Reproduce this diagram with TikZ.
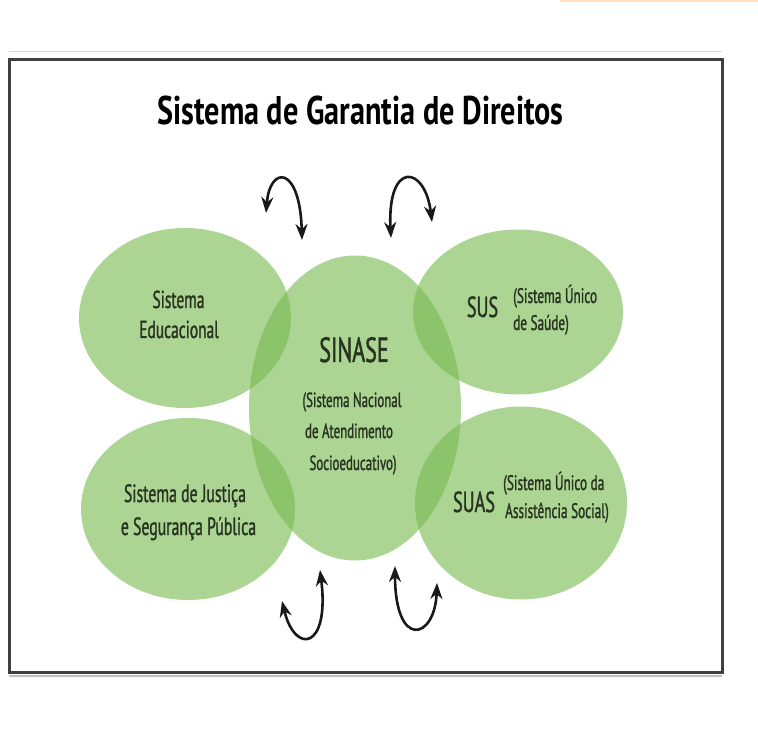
\documentclass[tikz,border=0pt]{standalone}
\usepackage{fontspec}
\setmainfont{PT Sans}[FakeStretch=0.63, FakeBold=1.2]
\newfontfamily\titlefont{PT Sans}[FakeStretch=0.756]
\usetikzlibrary{shapes.geometric,arrows.meta}
\definecolor{gfill}{RGB}{118,186,78}
\definecolor{txt}{RGB}{40,52,32}
\tikzset{
  blob/.style={ellipse, fill=gfill, fill opacity=0.6, draw=none, inner sep=0pt},
  ln/.style={text=txt, inner sep=0pt, anchor=base},
  lw/.style={text=txt, inner sep=0pt, anchor=base west},
  fa/.style={font=\fontsize{25}{28}\selectfont},
  fb/.style={font=\fontsize{20.5}{24}\selectfont},
  fc/.style={font=\fontsize{21}{24}\selectfont},
  fd/.style={font=\fontsize{29}{32}\selectfont},
  loop/.style={line width=2.6pt, black!90, {Stealth[length=16pt,width=12pt]}-{Stealth[length=16pt,width=12pt]}}
}
\begin{document}
\begin{tikzpicture}[x=1pt,y=-1pt]
\useasboundingbox (0,0) rectangle (758,735);
\fill[white] (0,0) rectangle (758,735);
\fill[orange!25] (560,0) rectangle (758,2);
% frame
\draw[black!15, line width=1pt] (9,52) -- (722,52);
\draw[black!75, line width=3pt] (9,60) rectangle (722,672);
\draw[black!25, line width=1.5pt] (9,676) -- (722,676);
% ellipses
\node[blob, minimum width=212, minimum height=180] (edu) at (185,318) {};
\node[blob, minimum width=214, minimum height=182] (jus) at (188,509) {};
\node[blob, minimum width=212, minimum height=305] (sin) at (355,408) {};
\node[blob, minimum width=210, minimum height=165] (sus) at (518,312) {};
\node[blob, minimum width=212, minimum height=193] (suas) at (521,503) {};
% title
\node[text=black, inner sep=0pt, anchor=base, font=\titlefont\bfseries\fontsize{40}{44}\selectfont] (title) at (360.5,125) {Sistema de Garantia de Direitos};
% texts
\node[ln, font=\fontsize{24.5}{28}\selectfont] (edu1) at (178.5,308) {Sistema};
\node[ln, font=\fontsize{24.5}{28}\selectfont] (edu2) at (179,338) {Educacional};
\node[ln, fa] (jus1) at (185,502) {Sistema de Justiça};
\node[ln, fa] (jus2) at (188.5,535) {e Segurança Pública};
\node[ln, font=\fontsize{35}{38}\selectfont] (sin0) at (354,362) {SINASE};
\node[ln, fb] (sin1) at (352,407) {(Sistema Nacional};
\node[ln, fb] (sin2) at (349,438) {de Atendimento};
\node[ln, fb] (sin3) at (353,470) {Socioeducativo)};
\node[ln, fd] (sus0) at (482.5,317) {SUS};
\node[lw, fc] (sus1) at (513,303) {(Sistema Único};
\node[lw, fc] (sus2) at (513,330) {de Saúde)};
\node[ln, fd] (suas0) at (474,512) {SUAS};
\node[lw, fc] (suas1) at (503,490) {(Sistema Único da};
\node[lw, fc] (suas2) at (505,518) {Assistência Social)};
% loop arrows
\coordinate (a1s) at (266,213);
\coordinate (a1e) at (302,240);
\draw[loop] (a1s) .. controls (270,165) and (300,165) .. (a1e);
\coordinate (a2s) at (391,238);
\coordinate (a2e) at (432,222);
\draw[loop] (a2s) .. controls (387,160) and (425,165) .. (a2e);
\coordinate (a3s) at (282,601);
\coordinate (a3e) at (320,570);
\draw[loop] (a3s) .. controls (295,655) and (330,650) .. (a3e);
\coordinate (a4s) at (395,566);
\coordinate (a4e) at (437,583);
\draw[loop] (a4s) .. controls (395,650) and (435,640) .. (a4e);
\end{tikzpicture}
\end{document}
